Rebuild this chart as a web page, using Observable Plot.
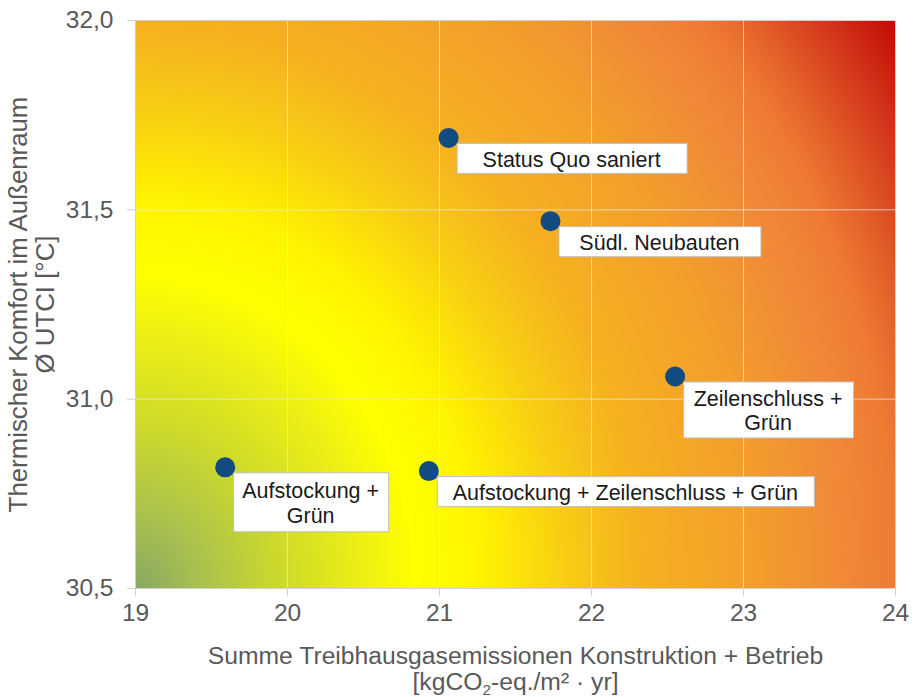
<!DOCTYPE html>
<html>
<head>
<meta charset="utf-8">
<script src="https://cdn.jsdelivr.net/npm/d3@7"></script>
<script src="https://cdn.jsdelivr.net/npm/@observablehq/plot@0.6"></script>
<style>
  html, body { margin: 0; padding: 0; background: #ffffff; }
  #chart svg { display: block; }
</style>
</head>
<body>
<div id="chart"></div>
<script>
// ---- data ----
const scenarios = [
  "Status Quo saniert",
  "Südl. Neubauten",
  "Zeilenschluss +\nGrün",
  "Aufstockung +\nGrün",
  "Aufstockung + Zeilenschluss + Grün"
];
const emissions = [21.06, 21.73, 22.55, 19.59, 20.93];
const utci = [31.69, 31.47, 31.06, 30.82, 30.81];
const xTicks = [19, 20, 21, 22, 23, 24];
const yTicks = [30.5, 31.0, 31.5, 32.0];
const xTitle = "Summe Treibhausgasemissionen Konstruktion + Betrieb\n[kgCO₂-eq./m² · yr]";
const yTitle = "Thermischer Komfort im Außenraum\nØ UTCI [°C]";

// background gradient stops (distance from bottom-left corner -> colour)
const gradStops = [0, 0.12, 0.3, 0.45, 0.55, 0.68, 0.85, 1.0, 1.2, 1.4, 1.5, 1.58, 1.7, 1.82];
const gradColors = ["#88a862", "#a8c050", "#d0dc28", "#eef014", "#ffff00", "#fff400", "#f8cc14",
                    "#f5b020", "#f3a02a", "#f08838", "#ee7a32", "#e35e28", "#d03018", "#c00000"];

// ---- layout (label boxes, px) ----
const boxW = [230, 202, 170, 155, 377];
const boxH = [30, 30, 56, 59, 30];
const boxDx = 8, boxDy = 5;

const font = "'Liberation Sans', Arial, Helvetica, sans-serif";
const xDom = [xTicks[0], xTicks[xTicks.length - 1]];
const yDom = [yTicks[0], yTicks[yTicks.length - 1]];

function gradientValue(x, y) {
  const u = (x - xDom[0]) / (xDom[1] - xDom[0]);
  const v = (y - yDom[0]) / (yDom[1] - yDom[0]);
  return Math.sqrt((u / 0.67) ** 2 + v ** 2);
}

function boxSymbol(w, h) {
  return { draw(ctx) { ctx.rect(boxDx + 0.5, boxDy + 0.5, w, h); } };
}

const idx = scenarios.map((_, i) => i);

const labelMarks = idx.map(i => [
  Plot.dot([i], {
    x: j => emissions[j], y: j => utci[j], r: 1,
    symbol: boxSymbol(boxW[i], boxH[i]),
    fill: "white", stroke: "#bfbfbf", strokeWidth: 1
  }),
  Plot.text([i], {
    x: j => emissions[j], y: j => utci[j], text: j => scenarios[j],
    dx: boxDx + boxW[i] / 2, dy: boxDy + boxH[i] / 2 + 1,
    textAnchor: "middle", lineAnchor: "middle", lineHeight: 1.12,
    fontSize: 21.5, fill: "#1a1a1a"
  })
]);

const chart = Plot.plot({
  width: 918,
  height: 697,
  marginLeft: 135,
  marginRight: 23,
  marginTop: 20,
  marginBottom: 109,
  style: { fontFamily: font, fontSize: "24px", background: "#ffffff", color: "#595959" },
  x: { domain: xDom },
  y: { domain: yDom },
  color: { type: "linear", domain: gradStops, range: gradColors, interpolate: "rgb" },
  marks: [
    Plot.raster({ fill: gradientValue, x1: xDom[0], x2: xDom[1], y1: yDom[0], y2: yDom[1], pixelSize: 1 }),
    Plot.gridX(xTicks, { stroke: "#e6e6e6", strokeOpacity: 0.75 }),
    Plot.gridY(yTicks, { stroke: "#e6e6e6", strokeOpacity: 0.75 }),
    Plot.frame({ stroke: "#d0d0d0" }),
    Plot.axisX(xTicks, {
      tickSize: 8, tickPadding: 7, tickFormat: d => String(d),
      stroke: "#d0d0d0", color: "#595959", fontSize: 24.5, label: null
    }),
    Plot.axisY(yTicks, {
      tickSize: 8, tickPadding: 14, tickFormat: d => d.toFixed(1).replace(".", ","),
      stroke: "#d0d0d0", color: "#595959", fontSize: 24.5, label: null
    }),
    Plot.dot(idx, { x: i => emissions[i], y: i => utci[i], r: 10, fill: "#124b80" }),
    labelMarks,
    Plot.text([xTitle], {
      text: d => d, frameAnchor: "bottom", dy: 80, textAnchor: "middle",
      lineAnchor: "middle", lineHeight: 1.06, fontSize: 24.7, fill: "#595959"
    }),
    Plot.text([yTitle], {
      text: d => d, frameAnchor: "left", dx: -104, rotate: -90, textAnchor: "middle",
      lineAnchor: "middle", lineHeight: 1.06, fontSize: 25.8, fill: "#595959"
    })
  ]
});
document.getElementById("chart").appendChild(chart);

// render the subscript 2 of CO₂ as a real lowered small glyph
const NS = "http://www.w3.org/2000/svg";
chart.querySelectorAll("tspan, text").forEach(node => {
  if (node.children.length === 0 && node.textContent.includes("₂")) {
    const [before, after] = node.textContent.split("₂");
    node.textContent = before;
    const sub = document.createElementNS(NS, "tspan");
    sub.setAttribute("font-size", "0.62em");
    sub.setAttribute("baseline-shift", "-30%");
    sub.textContent = "2";
    const rest = document.createElementNS(NS, "tspan");
    rest.textContent = after;
    node.appendChild(sub);
    node.appendChild(rest);
  }
});
</script>
</body>
</html>
